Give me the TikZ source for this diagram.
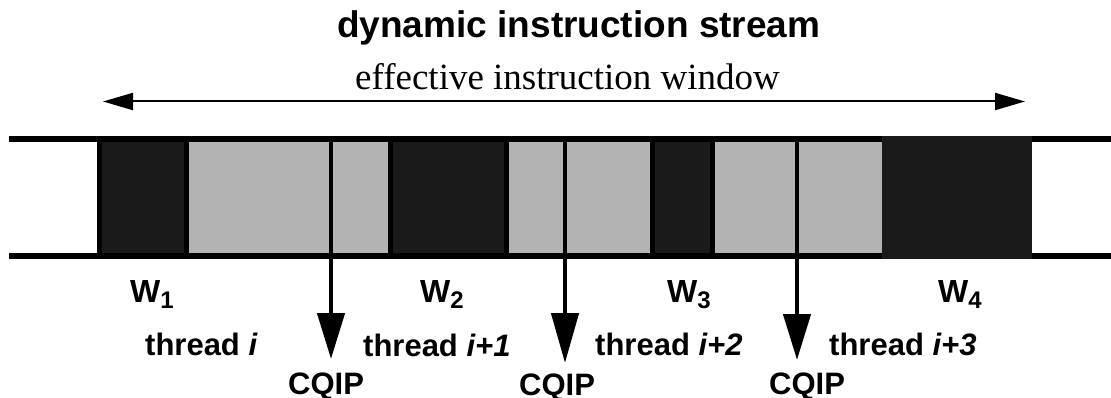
\documentclass[tikz,border=0pt]{standalone}
\usepackage{fontspec}
\setmainfont{Liberation Serif}
\setsansfont{Liberation Sans}
\usetikzlibrary{arrows.meta}

\definecolor{winfill}{HTML}{1A1A1A}
\definecolor{thrfill}{HTML}{B3B3B3}

\newcommand{\wlabel}[1]{W\raisebox{-6pt}{\fontsize{24}{24}\selectfont #1}}

\begin{document}
\begin{tikzpicture}[x=1pt,y=-1pt,
  lbl/.style={font=\sffamily\bfseries\fontsize{31}{31}\selectfont, anchor=base west, inner sep=0pt},
  wlbl/.style={font=\sffamily\bfseries\fontsize{32}{32}\selectfont, anchor=base west, inner sep=0pt},
  rail/.style={line width=6pt},
  winbox/.style={fill=winfill, draw=black, line width=5pt, inner sep=0pt, outer sep=0pt},
  lastwin/.style={fill=winfill, inner sep=0pt, outer sep=0pt},
  cqiparrow/.style={line width=4.5pt, -{Triangle[length=46pt,width=27pt]}},
  span/.style={line width=2pt, {Triangle[length=30pt,width=17pt]}-{Triangle[length=30pt,width=17pt]}},
]
\useasboundingbox (0,0) rectangle (1111,398);

% headings
\node[font=\sffamily\bfseries\fontsize{37}{37}\selectfont, anchor=base west, inner sep=0pt]
  (title) at (337,38) {dynamic instruction stream};
\node[font=\fontsize{37}{37}\selectfont, anchor=base west, inner sep=0pt]
  (window) at (355,90) {effective instruction window};

% extent of the effective window
\coordinate (winL) at (103,101.5);
\coordinate (winR) at (1025,101.5);
\draw[span] (winL) -- (winR);

% thread region of the stream
\fill[thrfill] (97,139) rectangle (882,256);

% instruction windows
\node[winbox, minimum width=87pt, minimum height=117pt] (w1box) at (143,197.5) {};
\node[winbox, minimum width=116pt, minimum height=117pt] (w2box) at (448.5,197.5) {};
\node[winbox, minimum width=59.5pt, minimum height=117pt] (w3box) at (682.25,197.5) {};

% stream rails
\draw[rail] (9,139) -- (1111,139);
\draw[rail] (9,256) -- (1111,256);

\node[lastwin, minimum width=150pt, minimum height=123pt] (w4box) at (957,197.3) {};

% CQIP markers
\coordinate (c1top) at (331,136);  \coordinate (c1tip) at (331,359);
\coordinate (c2top) at (565,136);  \coordinate (c2tip) at (565,363);
\coordinate (c3top) at (797,136);  \coordinate (c3tip) at (797,360);
\draw[cqiparrow] (c1top) -- (c1tip);
\draw[cqiparrow, -{Triangle[length=50pt,width=27pt]}] (c2top) -- (c2tip);
\draw[cqiparrow] (c3top) -- (c3tip);

% window labels
\node[wlbl] (w1) at (130,302) {\wlabel{1}};
\node[wlbl] (w2) at (420,302) {\wlabel{2}};
\node[wlbl] (w3) at (667,302) {\wlabel{3}};
\node[wlbl] (w4) at (938,302) {\wlabel{4}};

% thread labels
\node[lbl] (t1) at (145,355) {thread \textit{i}};
\node[lbl] (t2) at (363,356) {thread \textit{i+1}};
\node[lbl] (t3) at (595,355) {thread \textit{i+2}};
\node[lbl] (t4) at (829,355) {thread \textit{i+3}};

% CQIP labels
\node[lbl] (q1) at (288,394) {CQIP};
\node[lbl] (q2) at (519,395.5) {CQIP};
\node[lbl] (q3) at (769,394) {CQIP};
\end{tikzpicture}
\end{document}
